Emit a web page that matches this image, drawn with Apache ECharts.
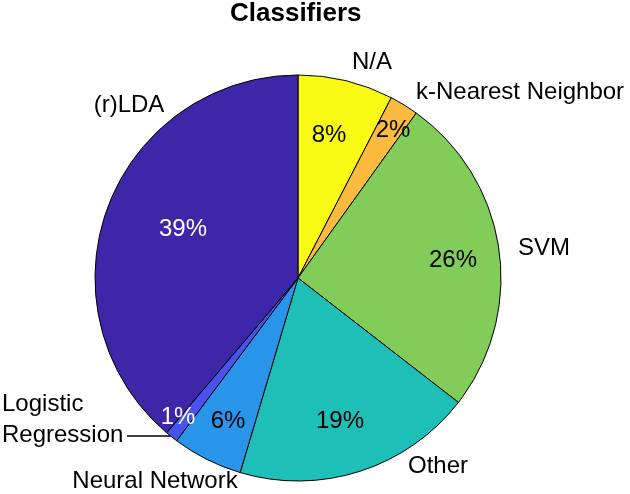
<!DOCTYPE html>
<html>
<head>
<meta charset="utf-8">
<script src="https://cdn.jsdelivr.net/npm/echarts@6/dist/echarts.min.js"></script>
<style>
  html, body { margin: 0; padding: 0; background: #fff; }
  #chart { width: 630px; height: 494px; }
</style>
</head>
<body>
<div id="chart"></div>
<script>
  // clockwise from 12 o'clock
  var classifiers = ['N/A', 'k-Nearest Neighbor', 'SVM', 'Other', 'Neural Network', 'Logistic\nRegression', '(r)LDA']
  var shares = [7.6, 2.3, 25.6, 19.1, 5.6, 1.0, 38.8]

  var sliceColors = ['#f9fb15', '#fcbb3e', '#82cc59', '#1dbfb7', '#2894ea', '#4853ef', '#3e26a8']
  var pctColors = ['#000', '#000', '#000', '#000', '#000', '#fff', '#fff']

  // hand placed text, like the original figure
  var namePos = [[372, 62], [416, 92, 'left'], [518, 248, 'left'], [438, 466], [155, 481], [2, 420, 'left'], [129, 105]]
  var pctPos = [[329, 135], [393, 130], [453, 260], [340, 421], [228, 421], [178, 417], [183, 229]]

  var font = 'Liberation Sans, Arial, Helvetica, sans-serif'
  var chart = echarts.init(document.getElementById('chart'))

  var mainData = classifiers.map(function (n, i) {
    return {
      name: n,
      value: shares[i],
      itemStyle: { color: sliceColors[i] },
      labelLine: { show: i === 5 }
    }
  })
  var pctData = classifiers.map(function (n, i) {
    return { name: n, value: shares[i], label: { color: pctColors[i] } }
  })

  chart.setOption({
    animation: false,
    backgroundColor: '#fff',
    title: {
      text: 'Classifiers',
      left: 230,
      top: 1,
      padding: 0,
      textStyle: { fontFamily: font, fontSize: 26, fontWeight: 'bold', color: '#000' }
    },
    series: [
      {
        type: 'pie',
        center: [298, 278],
        radius: [0, 203],
        startAngle: 90,
        clockwise: true,
        avoidLabelOverlap: false,
        itemStyle: { borderColor: '#000', borderWidth: 1 },
        emphasis: { disabled: true },
        label: {
          show: true,
          position: 'outside',
          formatter: '{b}',
          fontFamily: font,
          fontSize: 24,
          lineHeight: 31,
          color: '#000'
        },
        labelLine: { show: false, lineStyle: { color: '#000', width: 1.5 } },
        labelLayout: function (p) {
          var q = namePos[p.dataIndex]
          var out = { x: q[0], y: q[1], align: q[2] || 'center', verticalAlign: 'middle' }
          if (p.dataIndex === 5) {
            out.labelLinePoints = [[127, 436], [150, 436], [173, 436]]
          }
          return out
        },
        data: mainData
      },
      {
        type: 'pie',
        center: [298, 278],
        radius: [0, 203],
        startAngle: 90,
        clockwise: true,
        silent: true,
        avoidLabelOverlap: false,
        itemStyle: { color: 'rgba(0,0,0,0)', borderWidth: 0 },
        label: {
          show: true,
          position: 'inside',
          fontFamily: font,
          fontSize: 24,
          formatter: function (p) { return Math.round(p.percent) + '%' }
        },
        labelLine: { show: false },
        labelLayout: function (p) {
          var q = pctPos[p.dataIndex]
          return { x: q[0], y: q[1], align: 'center', verticalAlign: 'middle' }
        },
        data: pctData
      }
    ]
  })
</script>
</body>
</html>
